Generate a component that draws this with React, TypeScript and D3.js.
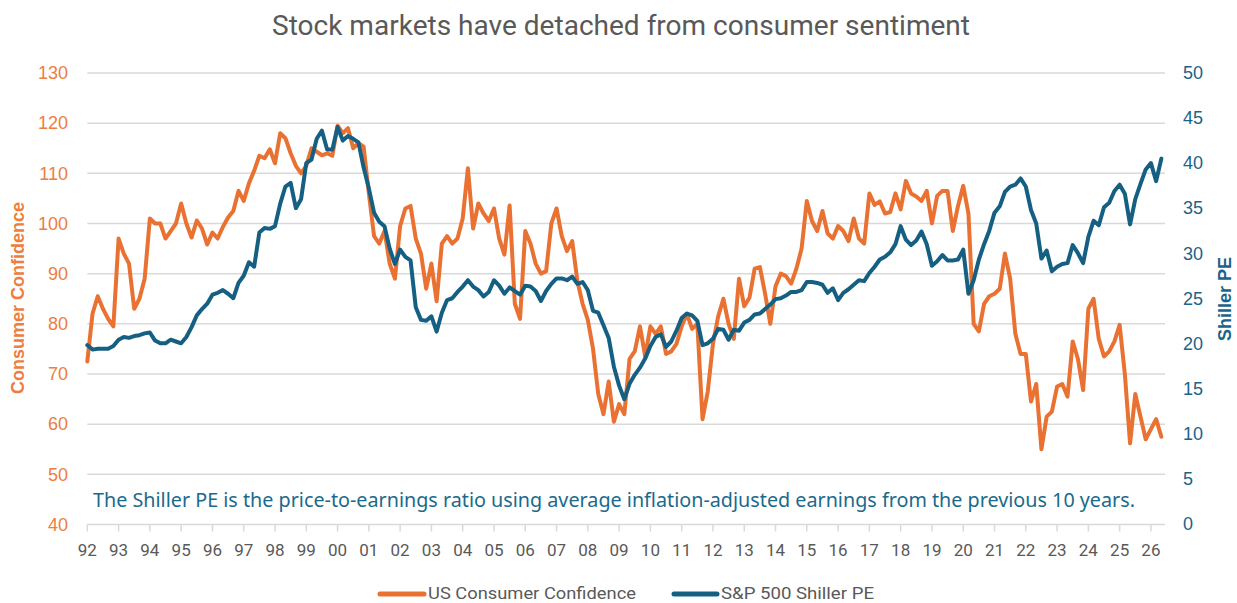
import React from 'react';
import * as d3 from 'd3';

// bimonthly readings, one row per year (1992 .. 2026)
const years = d3.range(1992, 2027);

const consumerConfidence: number[][] = [
  [72.5, 82, 85.5, 83, 81, 79.5],
  [97, 94, 92, 83, 85, 89],
  [101, 100, 100, 97, 98.5, 100],
  [104, 100, 97.2, 100.6, 99, 95.8],
  [98.2, 97, 99.3, 101.2, 102.5, 106.5],
  [104.5, 108, 110.5, 113.5, 113, 114.8],
  [112, 118, 117, 114, 111.5, 110],
  [111.5, 115, 114.3, 113.6, 114, 113.5],
  [119.5, 118, 119, 115, 116, 115.3],
  [106, 97.5, 96, 98.5, 92, 89],
  [99.5, 103, 103.5, 97, 94, 87],
  [92, 84.5, 96, 97.5, 96, 97],
  [101, 111, 99, 104, 102, 100.5],
  [103, 97, 93.8, 103.6, 84, 81],
  [98.5, 96, 92, 90, 90.5, 100],
  [103, 97.5, 94.5, 96.5, 88.5, 84],
  [80.8, 75, 66, 62, 68.5, 60.5],
  [64, 62, 73, 74.5, 79.5, 73.5],
  [79.5, 78, 79.5, 74, 74.5, 76],
  [79.5, 82, 79, 80, 61, 66.5],
  [76, 81.5, 85, 80, 77, 89],
  [83.5, 85.2, 91, 91.3, 86, 80],
  [87.5, 90, 89.5, 88, 91, 95],
  [104.5, 100.5, 98.5, 102.5, 98, 97],
  [99.5, 98.5, 96.5, 101, 97, 96],
  [106, 103.7, 104.4, 102, 102.3, 106],
  [102.8, 108.5, 106, 105.4, 104.5, 106.5],
  [100, 105.5, 106.5, 106.5, 98.5, 103.5],
  [107.5, 102, 80, 78.5, 84, 85.5],
  [86, 87, 94, 89, 78, 74],
  [74, 64.5, 68, 55, 61.5, 62.5],
  [67.5, 68, 65.5, 76.5, 73, 66.8],
  [83, 85, 77, 73.5, 74.5, 76.5],
  [79.8, 70, 56.2, 66, 61.5, 57],
  [59, 61, 57.5],
];

const shillerPE: number[][] = [
  [19.8, 19.3, 19.4, 19.4, 19.4, 19.7],
  [20.4, 20.7, 20.6, 20.8, 20.9, 21.1],
  [21.2, 20.3, 20, 20, 20.4, 20.2],
  [20, 20.7, 21.8, 23.1, 23.8, 24.4],
  [25.4, 25.6, 25.9, 25.5, 25, 26.7],
  [27.5, 29, 28.5, 32.3, 32.8, 32.7],
  [33, 35.5, 37.4, 37.8, 35, 36],
  [40, 40.4, 42.7, 43.6, 41.5, 41.5],
  [44, 42.5, 43, 42.7, 42.3, 39.5],
  [37.2, 34.5, 33.5, 33, 30.5, 28.8],
  [30.4, 29.6, 29.2, 24, 22.6, 22.5],
  [23, 21.3, 23.4, 24.8, 25, 25.7],
  [26.3, 27, 26.3, 25.9, 25.2, 25.7],
  [27, 26.4, 25.5, 26.2, 25.8, 25.4],
  [26.4, 26.3, 25.8, 24.7, 25.8, 26.6],
  [27.2, 27.2, 27, 27.4, 26.6, 26.8],
  [25.9, 23.6, 23.4, 22, 20.6, 17.4],
  [15.3, 13.8, 15.5, 16.5, 17.3, 18.3],
  [19.7, 20.7, 21, 19.6, 20.2, 21.4],
  [22.8, 23.3, 23.1, 22.5, 19.8, 20],
  [20.5, 21.6, 21.5, 20.4, 21.5, 21.4],
  [22.3, 22.6, 23.2, 23.3, 23.8, 24.3],
  [24.9, 25, 25.3, 25.7, 25.7, 25.9],
  [26.8, 26.8, 26.7, 26.5, 25.6, 26.1],
  [24.8, 25.6, 26, 26.5, 27, 26.9],
  [27.8, 28.5, 29.3, 29.6, 30.1, 31],
  [33, 31.5, 30.9, 31.4, 32.4, 31],
  [28.6, 29.1, 29.8, 29.2, 29.2, 29.3],
  [30.4, 25.5, 27, 29.3, 31, 32.5],
  [34.5, 35.2, 36.8, 37.4, 37.6, 38.3],
  [37.4, 34.8, 33.3, 29.4, 30.3, 28],
  [28.5, 28.8, 28.9, 30.9, 30, 28.9],
  [31.8, 33.6, 33.1, 35.1, 35.6, 36.9],
  [37.6, 36.6, 33.2, 36, 37.7, 39.3],
  [40, 38, 40.5],
];

const leftTicks = [40, 50, 60, 70, 80, 90, 100, 110, 120, 130];
const rightTicks = [0, 5, 10, 15, 20, 25, 30, 35, 40, 45, 50];

const ORANGE = '#E97132';
const BLUE = '#156082';
const GREY = '#595959';

type Pt = { t: number; v: number };

const toPoints = (rows: number[][]): Pt[] =>
  rows.flatMap((row, i) => row.map((v, k) => ({ t: years[i] + k / 6, v })));

const App: React.FC = () => {
  const width = 1237;
  const height = 603;
  const plot = { left: 87.3, right: 1165, top: 73, bottom: 524.5 };

  const x = d3.scaleLinear().domain([1992, 2026.45]).range([plot.left, plot.right]);
  const yLeft = d3.scaleLinear().domain([40, 130]).range([plot.bottom, plot.top]);
  const yRight = d3.scaleLinear().domain([0, 50]).range([plot.bottom - 1, plot.top]);

  const ccLine = d3
    .line<Pt>()
    .x((d) => x(d.t))
    .y((d) => yLeft(d.v));
  const peLine = d3
    .line<Pt>()
    .x((d) => x(d.t))
    .y((d) => yRight(d.v));

  const axisFont = '"Liberation Sans", Arial, sans-serif';
  const narrowFont = 'Roboto, "Liberation Sans", sans-serif';

  return (
    <svg
      width={width}
      height={height}
      style={{ position: 'absolute', left: 0, top: 0, background: '#fff' }}
    >
      <text
        x={621}
        y={35}
        textAnchor="middle"
        fontFamily={narrowFont}
        fontSize={27}
        fill={GREY}
        textLength={698}
        lengthAdjust="spacingAndGlyphs"
      >
        Stock markets have detached from consumer sentiment
      </text>

      {/* gridlines */}
      {leftTicks.slice(1).map((t) => (
        <line
          key={t}
          x1={plot.left}
          x2={plot.right}
          y1={yLeft(t)}
          y2={yLeft(t)}
          stroke="#d9d9d9"
          strokeWidth={1.5}
        />
      ))}

      {/* x axis */}
      <line x1={plot.left} x2={plot.right} y1={plot.bottom} y2={plot.bottom} stroke="#d9d9d9" strokeWidth={1.5} />
      {years.map((yr) => (
        <g key={yr}>
          <line x1={x(yr)} x2={x(yr)} y1={plot.bottom} y2={plot.bottom + 7} stroke="#d9d9d9" strokeWidth={1.5} />
          <text x={x(yr)} y={556} textAnchor="middle" fontFamily={narrowFont} fontSize={17} fill={GREY}>
            {String(yr % 100).padStart(2, '0')}
          </text>
        </g>
      ))}

      {/* left axis */}
      {leftTicks.map((t) => (
        <text key={t} x={68} y={yLeft(t)} dy="0.35em" textAnchor="end" fontFamily={axisFont} fontSize={18} fill="#EE7D3E">
          {t}
        </text>
      ))}
      <text
        transform="translate(24,298) rotate(-90)"
        textAnchor="middle"
        fontFamily={axisFont}
        fontSize={18}
        fontWeight="bold"
        fill="#EE7D3E"
      >
        Consumer Confidence
      </text>

      {/* right axis */}
      {rightTicks.map((t) => (
        <text key={t} x={1183} y={yRight(t)} dy="0.35em" textAnchor="start" fontFamily={axisFont} fontSize={18} fill="#1B6388">
          {t}
        </text>
      ))}
      <text
        transform="translate(1231,299) rotate(-90)"
        textAnchor="middle"
        fontFamily={axisFont}
        fontSize={18}
        fontWeight="bold"
        fill="#1B6388"
      >
        Shiller PE
      </text>

      {/* series */}
      <path
        d={ccLine(toPoints(consumerConfidence)) ?? ''}
        fill="none"
        stroke={ORANGE}
        strokeWidth={4}
        strokeLinejoin="round"
        strokeLinecap="round"
      />
      <path
        d={peLine(toPoints(shillerPE)) ?? ''}
        fill="none"
        stroke={BLUE}
        strokeWidth={4}
        strokeLinejoin="round"
        strokeLinecap="round"
      />

      <text
        x={93}
        y={507}
        fontFamily='"Noto Sans", sans-serif'
        fontSize={19}
        fill="#1A6A8C"
        textLength={1042}
        lengthAdjust="spacingAndGlyphs"
      >
        The Shiller PE is the price-to-earnings ratio using average inflation-adjusted earnings from the previous 10 years.
      </text>

      {/* legend */}
      <line x1={380} x2={424} y1={594} y2={594} stroke={ORANGE} strokeWidth={5} strokeLinecap="round" />
      <text
        x={428}
        y={599}
        fontFamily={narrowFont}
        fontSize={17}
        fill={GREY}
        textLength={208}
        lengthAdjust="spacingAndGlyphs"
      >
        US Consumer Confidence
      </text>
      <line x1={674} x2={717} y1={594} y2={594} stroke={BLUE} strokeWidth={5} strokeLinecap="round" />
      <text
        x={721}
        y={599}
        fontFamily={narrowFont}
        fontSize={17}
        fill={GREY}
        textLength={153}
        lengthAdjust="spacingAndGlyphs"
      >
        S&amp;P 500 Shiller PE
      </text>
    </svg>
  );
};

export default App;
